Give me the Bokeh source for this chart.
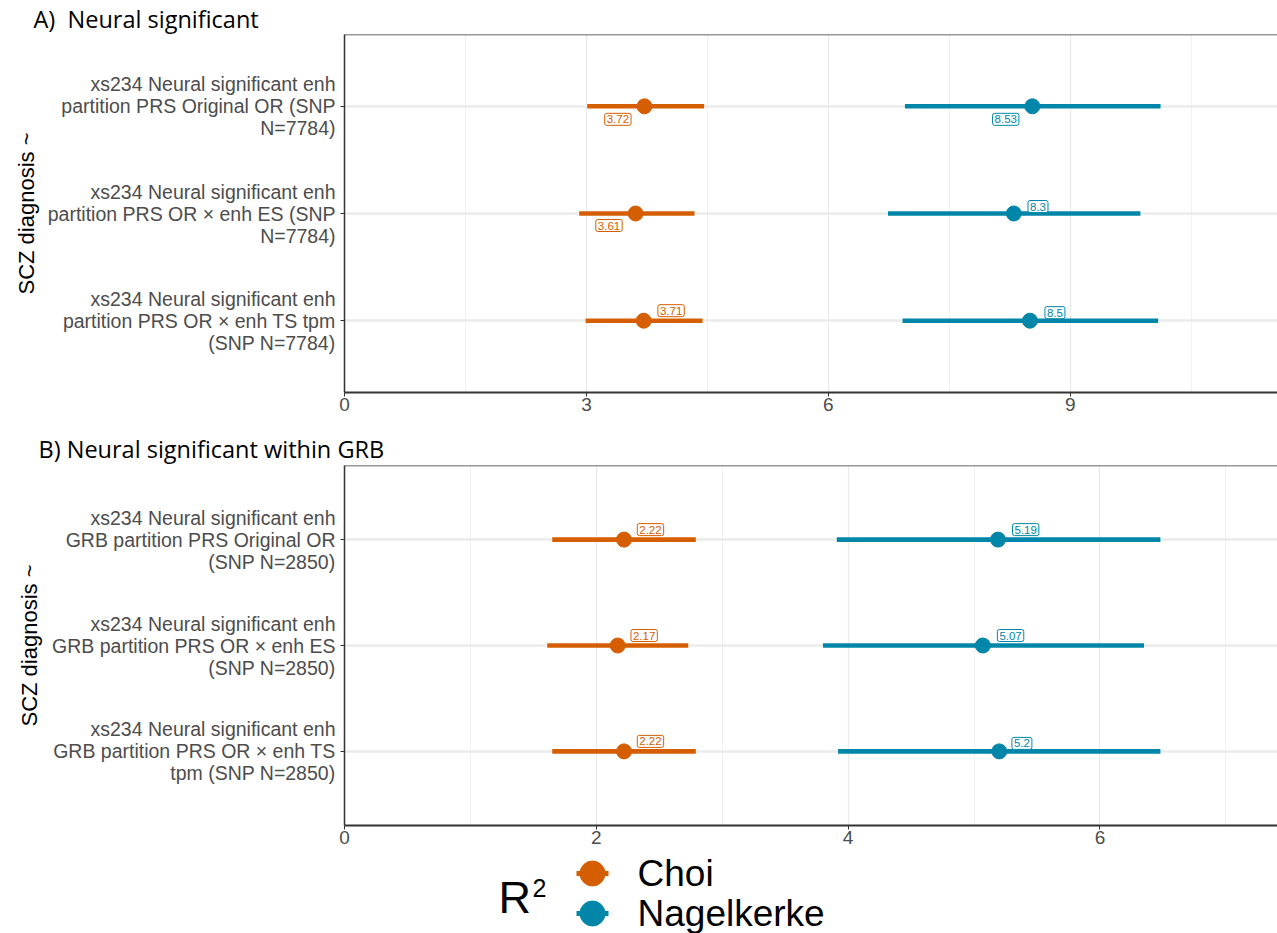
from bokeh.plotting import figure
from bokeh.layouts import column
from bokeh.models import (ColumnDataSource, Range1d, FixedTicker, Span, Title)
from bokeh.embed import file_html
from bokeh.resources import INLINE
from bokeh.core.properties import value

# ---------------- data ----------------
rows_a = [
    "xs234 Neural significant enh\npartition PRS Original OR (SNP\nN=7784)",
    "xs234 Neural significant enh\npartition PRS OR \u00d7 enh ES (SNP\nN=7784)",
    "xs234 Neural significant enh\npartition PRS OR \u00d7 enh TS tpm\n(SNP N=7784)",
]
choi_a = [3.72, 3.61, 3.71]
choi_a_lo = [3.01, 2.91, 2.99]
choi_a_hi = [4.46, 4.34, 4.44]
nag_a = [8.53, 8.30, 8.50]
nag_a_lo = [6.95, 6.74, 6.92]
nag_a_hi = [10.12, 9.87, 10.09]

rows_b = [
    "xs234 Neural significant enh\nGRB partition PRS Original OR\n(SNP N=2850)",
    "xs234 Neural significant enh\nGRB partition PRS OR \u00d7 enh ES\n(SNP N=2850)",
    "xs234 Neural significant enh\nGRB partition PRS OR \u00d7 enh TS\ntpm (SNP N=2850)",
]
choi_b = [2.22, 2.17, 2.22]
choi_b_lo = [1.65, 1.61, 1.65]
choi_b_hi = [2.79, 2.73, 2.79]
nag_b = [5.19, 5.07, 5.20]
nag_b_lo = [3.91, 3.80, 3.92]
nag_b_hi = [6.48, 6.35, 6.48]

# repelled label positions (x in data units, vertical shift in screen px, + = down)
choi_a_lab_x = [3.39, 3.28, 4.05]
choi_a_lab_dy = [13, 12, -10]
nag_a_lab_x = [8.20, 8.60, 8.81]
nag_a_lab_dy = [13, -7, -8]
choi_b_lab_x = [2.43, 2.38, 2.43]
choi_b_lab_dy = [-10, -10, -10]
nag_b_lab_x = [5.41, 5.29, 5.38]
nag_b_lab_dy = [-10, -10, -8]

x_ticks_a = [0, 3, 6, 9]
x_minor_a = [1.5, 4.5, 7.5, 10.5]
x_ticks_b = [0, 2, 4, 6]
x_minor_b = [1, 3, 5, 7]

legend_names = ["Choi", "Nagelkerke"]

CHOI = "#D55E00"
NAG = "#0086A8"
FONT = "Liberation Sans"
FRAME_LEFT = 344
WIDTH = 1277


def panel(title, rows, series, xmax, ticks, minor, height, top, bottom,
          ylo, yhi, title_offset, title_standoff, ylab_standoff):
    p = figure(width=WIDTH, height=height, output_backend="svg", toolbar_location=None,
               x_range=Range1d(0, xmax), y_range=Range1d(ylo, yhi),
               min_border_left=FRAME_LEFT, min_border_right=0, min_border_top=top,
               min_border_bottom=bottom)
    p.outline_line_color = None
    p.title.text = title
    p.title.align = "left"
    p.title.offset = title_offset
    p.title.standoff = title_standoff
    p.title.text_font = "Open Sans"
    p.title.text_font_size = "23.5px"
    p.title.text_font_style = "normal"
    p.title.text_color = "black"

    yvals = [3, 2, 1]
    p.xaxis.ticker = FixedTicker(ticks=ticks, minor_ticks=minor)
    p.yaxis.ticker = FixedTicker(ticks=yvals)
    p.xgrid.grid_line_color = "#EBEBEB"
    p.xgrid.grid_line_width = 1.3
    p.xgrid.minor_grid_line_color = "#EEEEEE"
    p.xgrid.minor_grid_line_width = 0.8
    p.ygrid.grid_line_color = "#EBEBEB"
    p.ygrid.grid_line_width = 2.5

    # top border of the panel
    p.add_layout(Span(location=yhi, dimension="width", line_color="#333333", line_width=1.5))

    for vals, lo, hi, lab_x, lab_dy, col in series:
        src = ColumnDataSource(dict(y=yvals, v=vals, lo=lo, hi=hi, lx=lab_x, dy=lab_dy,
                                    txt=[f"{v:g}" for v in vals]))
        p.segment(x0="lo", y0="y", x1="hi", y1="y", source=src, line_color=col,
                  line_width=4.6, line_cap="butt")
        p.scatter(x="v", y="y", source=src, size=15, fill_color=col, line_color=col)
        p.text(x="lx", y="y", text="txt", source=src, y_offset="dy",
               text_color=col, text_font=value(FONT), text_font_size="11.5px",
               text_align="center", text_baseline="middle",
               background_fill_color="white", border_line_color=col,
               border_line_width=1, padding=2, border_radius=2)

    p.yaxis.major_label_overrides = {3: rows[0], 2: rows[1], 1: rows[2]}
    p.yaxis.major_label_text_font = FONT
    p.yaxis.major_label_text_font_size = "19.5px"
    p.yaxis.major_label_text_color = "#4D4D4D"
    p.yaxis.major_label_text_line_height = 1.0
    p.yaxis.major_label_standoff = 5
    p.yaxis.axis_line_color = "#333333"
    p.yaxis.axis_line_width = 1.5
    p.yaxis.major_tick_line_color = "#333333"
    p.yaxis.major_tick_out = 4
    p.yaxis.major_tick_in = 0
    p.yaxis.minor_tick_line_color = None

    # rotated y-axis title placed outside the tick labels
    p.add_layout(Title(text="SCZ diagnosis ~", align="center", text_font=FONT,
                       text_font_size="22px", text_font_style="normal",
                       text_color="black", standoff=ylab_standoff), "left")

    p.xaxis.major_label_text_font = FONT
    p.xaxis.major_label_text_font_size = "19px"
    p.xaxis.major_label_text_color = "#4D4D4D"
    p.xaxis.major_label_standoff = 1
    p.xaxis.axis_line_color = "#333333"
    p.xaxis.axis_line_width = 2
    p.xaxis.major_tick_line_color = "#333333"
    p.xaxis.major_tick_out = 4
    p.xaxis.major_tick_in = 0
    p.xaxis.minor_tick_line_color = None
    return p


pa = panel("A)\u00a0 Neural significant", rows_a,
           [(choi_a, choi_a_lo, choi_a_hi, choi_a_lab_x, choi_a_lab_dy, CHOI),
            (nag_a, nag_a_lo, nag_a_hi, nag_a_lab_x, nag_a_lab_dy, NAG)],
           11.57, x_ticks_a, x_minor_a, 429, 34, 37, 0.33, 3.67, -311, 0, 12)
pb = panel("B) Neural significant within GRB", rows_b,
           [(choi_b, choi_b_lo, choi_b_hi, choi_b_lab_x, choi_b_lab_dy, CHOI),
            (nag_b, nag_b_lo, nag_b_hi, nag_b_lab_x, nag_b_lab_dy, NAG)],
           7.41, x_ticks_b, x_minor_b, 424, 36, 28, 0.30, 3.70, -306, 2, 16)

# ---------------- legend strip (coordinates are page pixels) ----------------
TOP = 853
LEG_H = 80
lf = figure(width=WIDTH, height=LEG_H, output_backend="svg", toolbar_location=None,
            x_range=Range1d(FRAME_LEFT, WIDTH), y_range=Range1d(TOP + LEG_H, TOP),
            min_border_left=FRAME_LEFT, min_border_right=0,
            min_border_top=0, min_border_bottom=0)
lf.outline_line_color = None
lf.xaxis.visible = False
lf.yaxis.visible = False
lf.grid.visible = False

key_y = [873, 913]
leg_src = ColumnDataSource(dict(name=legend_names, col=[CHOI, NAG], y=key_y,
                                x=[592, 592], x0=[576, 576], x1=[608, 608],
                                tx=[637, 637]))
lf.segment(x0="x0", y0="y", x1="x1", y1="y", source=leg_src, line_color="col",
           line_width=5)
lf.scatter(x="x", y="y", source=leg_src, size=25, fill_color="col", line_color="col")
lf.text(x="tx", y="y", text="name", source=leg_src, text_font=value(FONT),
        text_font_size="37px", text_color="black", text_baseline="middle",
        text_align="left")
lf.text(x=[498], y=[897], text=["R"], text_font=value(FONT), text_font_size="45px",
        text_color="black", text_baseline="middle", text_align="left")
lf.text(x=[532], y=[887], text=["2"], text_font=value(FONT), text_font_size="25px",
        text_color="black", text_baseline="middle", text_align="left")

layout = column(pa, pb, lf, spacing=0)
open("out.html", "w").write(file_html(layout, INLINE))
